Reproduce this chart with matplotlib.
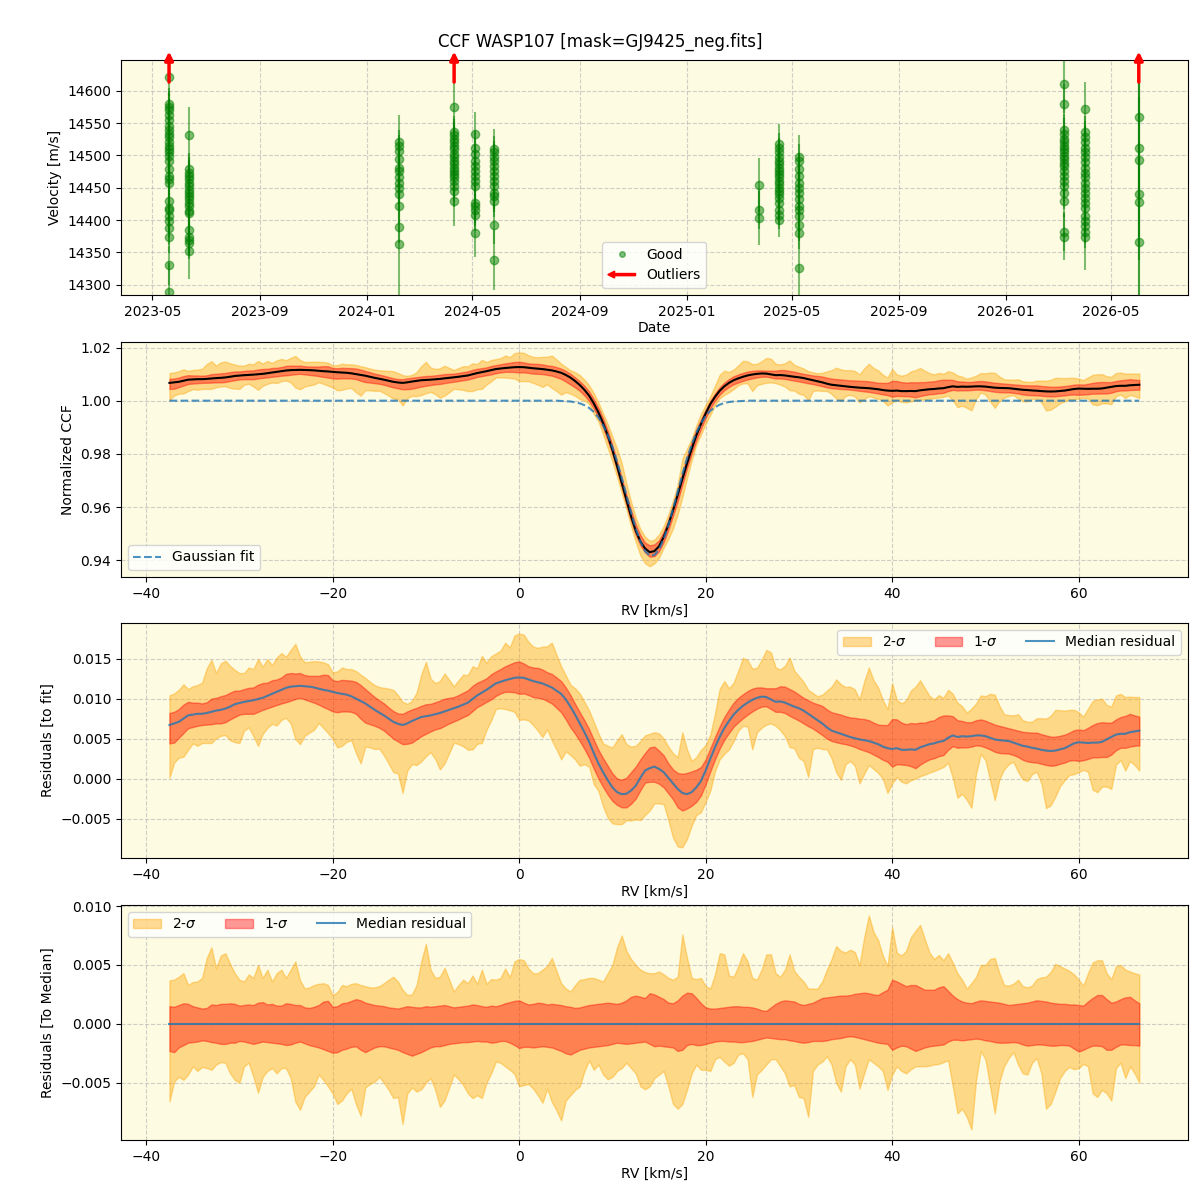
import numpy as np
import matplotlib.pyplot as plt
import matplotlib.dates as mdates
from matplotlib.ticker import MultipleLocator
from matplotlib.patches import FancyArrow, Patch
from matplotlib.lines import Line2D
from matplotlib.legend_handler import HandlerPatch

# ---------------- RV time series (top panel) ----------------
cluster_dates = ["2023-05-20", "2023-06-12", "2024-02-07", "2024-04-10",
                 "2024-05-04", "2024-05-26", "2025-03-25", "2025-04-16",
                 "2025-05-09", "2026-03-08", "2026-04-01", "2026-06-02"]

cluster_vel = [
    [14622, 14580, 14575, 14570, 14562, 14554, 14546, 14539, 14533, 14528,
     14520, 14515, 14510, 14505, 14499, 14492, 14479, 14468, 14463, 14458,
     14429, 14419, 14416, 14406, 14398, 14387, 14374, 14330, 14288],
    [14531, 14479, 14473, 14468, 14463, 14458, 14453, 14447, 14442, 14437,
     14432, 14427, 14421, 14414, 14411, 14385, 14374, 14369, 14364, 14352],
    [14520, 14515, 14507, 14494, 14481, 14476, 14466, 14458, 14450, 14440,
     14421, 14389, 14363],
    [14575, 14536, 14531, 14526, 14520, 14515, 14510, 14502, 14497, 14492,
     14486, 14481, 14476, 14471, 14466, 14460, 14453, 14445, 14429],
    [14533, 14512, 14502, 14492, 14484, 14476, 14468, 14460, 14453, 14427,
     14421, 14416, 14408, 14380],
    [14510, 14505, 14497, 14492, 14484, 14476, 14468, 14460, 14453, 14442,
     14437, 14429, 14393, 14338],
    [14454, 14416, 14403],
    [14518, 14512, 14505, 14497, 14492, 14486, 14481, 14476, 14471, 14466,
     14460, 14455, 14450, 14445, 14440, 14434, 14427, 14416, 14408, 14400],
    [14497, 14492, 14479, 14468, 14458, 14450, 14442, 14432, 14421, 14416,
     14406, 14393, 14380, 14325],
    [14610, 14580, 14539, 14533, 14526, 14520, 14515, 14510, 14505, 14499,
     14494, 14488, 14484, 14476, 14468, 14460, 14453, 14442, 14429, 14382,
     14374],
    [14572, 14536, 14528, 14520, 14512, 14505, 14497, 14489, 14481, 14473,
     14466, 14458, 14450, 14442, 14434, 14427, 14419, 14406, 14398, 14390,
     14382, 14374],
    [14559, 14511, 14493, 14440, 14428, 14366],
]

cluster_err = [
    [30, 25, 25, 25, 25, 25, 25, 25, 25, 25, 25, 25, 25, 25, 25, 25, 25, 25,
     25, 25, 25, 25, 25, 25, 25, 25, 25, 30, 45],
    [44, 25, 25, 25, 25, 25, 25, 25, 25, 25, 25, 25, 25, 25, 25, 25, 25, 25,
     25, 43],
    [42, 25, 25, 25, 25, 25, 25, 25, 25, 25, 25, 25, 95],
    [39, 25, 25, 25, 25, 25, 25, 25, 25, 25, 25, 25, 25, 25, 25, 25, 25, 25, 39],
    [34, 25, 25, 25, 25, 25, 25, 25, 25, 25, 25, 25, 25, 37],
    [31, 25, 25, 25, 25, 25, 25, 25, 25, 25, 25, 25, 30, 47],
    [42, 30, 42],
    [31, 22, 22, 22, 22, 22, 22, 22, 22, 22, 22, 22, 22, 22, 22, 22, 22, 22,
     22, 26],
    [35, 25, 25, 25, 25, 25, 25, 25, 25, 25, 25, 25, 25, 65],
    [45, 30, 25, 25, 25, 25, 25, 25, 25, 25, 25, 25, 25, 25, 25, 25, 25, 25,
     25, 30, 36],
    [42, 25, 25, 25, 25, 25, 25, 25, 25, 25, 25, 25, 25, 25, 25, 25, 25, 25,
     25, 25, 25, 52],
    [60, 80, 120, 210, 90, 130],
]

outlier_dates = ["2023-05-20", "2024-04-10", "2026-06-02"]

# ---------------- CCF profile, RV grid -37.5 .. 66.5 km/s, step 0.5 ----------------
rv_start, rv_step = -37.5, 0.5

gauss_fit = ([1.0] * 84 +
             [0.9999, 0.9998, 0.9997, 0.9994, 0.9990, 0.9983, 0.9973, 0.9958,
              0.9937, 0.9908, 0.9871, 0.9826, 0.9771, 0.9710, 0.9645, 0.9580,
              0.9520, 0.9470, 0.9434, 0.9417, 0.9419, 0.9440, 0.9479, 0.9532,
              0.9593, 0.9658, 0.9723, 0.9783, 0.9835, 0.9880, 0.9915, 0.9942,
              0.9962, 0.9975, 0.9985, 0.9991, 0.9995, 0.9997, 0.9998, 0.9999] +
             [1.0] * 85)

# median residual to the fit (units of 1e-3), rows of 5 km/s
median_resid = [
    6.7, 6.9, 7.1, 7.5, 7.9, 8.0, 8.1, 8.1, 8.2, 8.35,
    8.5, 8.6, 8.75, 9.0, 9.3, 9.45, 9.6, 9.7, 9.8, 9.95,
    10.1, 10.35, 10.6, 10.85, 11.1, 11.35, 11.5, 11.55, 11.6, 11.55,
    11.5, 11.4, 11.25, 11.1, 11.0, 10.85, 10.7, 10.6, 10.5, 10.3,
    10.0, 9.7, 9.4, 9.0, 8.6, 8.25, 7.9, 7.5, 7.1, 6.85,
    6.7, 6.9, 7.2, 7.45, 7.7, 7.8, 7.9, 8.05, 8.2, 8.4,
    8.6, 8.8, 9.0, 9.25, 9.5, 9.95, 10.4, 10.75, 11.1, 11.5,
    11.9, 12.1, 12.3, 12.45, 12.6, 12.65, 12.6, 12.4, 12.2, 12.05,
    11.9, 11.65, 11.4, 11.0, 10.6, 9.9, 9.0, 8.0, 6.9, 5.8,
    4.6, 3.2, 1.9, 0.8, -0.2, -1.1, -1.7, -1.95, -1.9, -1.5,
    -0.9, 0.1, 1.0, 1.3, 1.5, 1.2, 0.8, 0.1, -0.6, -1.3,
    -1.8, -1.95, -1.7, -1.1, -0.3, 1.0, 2.5, 3.9, 5.2, 6.3,
    7.2, 8.0, 8.6, 9.1, 9.5, 9.85, 10.1, 10.25, 10.2, 9.9,
    9.6, 9.65, 9.5, 9.25, 9.0, 8.8, 8.5, 8.1, 7.7, 7.3,
    6.9, 6.4, 6.0, 5.8, 5.6, 5.4, 5.2, 5.05, 4.9, 4.8,
    4.7, 4.5, 4.3, 4.0, 3.8, 3.7, 3.8, 3.6, 3.6, 3.65,
    3.6, 3.9, 4.1, 4.3, 4.4, 4.6, 4.7, 5.1, 5.4, 5.2,
    5.3, 5.25, 5.3, 5.4, 5.4, 5.3, 5.1, 4.9, 4.8, 4.75,
    4.7, 4.5, 4.3, 4.1, 4.0, 3.85, 3.75, 3.6, 3.5, 3.45,
    3.5, 3.65, 3.8, 4.1, 4.4, 4.55, 4.5, 4.45, 4.5, 4.5,
    4.6, 4.9, 5.2, 5.5, 5.6, 5.6, 5.8, 5.9, 6.0,
]

# band edges relative to the median (units of 1e-3)
hi_2sig = [
    3.7, 3.75, 4.0, 4.3, 3.3, 3.55, 3.6, 3.9, 5.6, 6.5,
    4.7, 5.8, 6.0, 5.1, 4.3, 3.75, 3.6, 4.2, 3.9, 5.0,
    3.9, 4.6, 3.6, 4.3, 4.6, 3.9, 4.6, 5.3, 3.7, 3.0,
    3.1, 3.3, 3.4, 3.45, 3.3, 2.45, 2.7, 3.3, 3.2, 3.4,
    3.45, 3.3, 3.2, 3.1, 3.1, 3.2, 3.45, 3.75, 4.0, 3.6,
    2.9, 2.45, 2.5, 3.3, 5.3, 6.8, 4.6, 3.9, 4.0, 4.75,
    3.75, 2.75, 3.3, 3.75, 3.45, 4.1, 3.4, 4.6, 3.4, 3.8,
    3.75, 3.9, 4.7, 3.95, 5.3, 5.5, 5.4, 4.7, 4.3, 4.3,
    4.6, 4.9, 5.6, 4.5, 3.45, 3.0, 2.75, 3.3, 3.75, 3.8,
    3.9, 3.9, 3.75, 3.6, 4.3, 5.0, 6.5, 7.5, 6.2, 5.5,
    5.0, 4.6, 4.4, 4.3, 4.3, 4.45, 4.2, 3.9, 3.75, 4.0,
    7.6, 5.6, 3.9, 3.8, 3.9, 3.2, 3.0, 4.2, 6.0, 5.9,
    4.1, 4.0, 4.9, 6.0, 5.3, 3.9, 3.75, 4.6, 5.9, 5.9,
    4.3, 4.0, 4.6, 5.9, 4.5, 4.0, 3.6, 3.0, 3.0, 3.0,
    3.6, 4.6, 5.5, 6.6, 6.2, 6.05, 6.3, 6.1, 5.0, 7.35,
    9.2, 7.8, 7.1, 5.8, 4.9, 8.2, 6.05, 5.8, 6.2, 7.35,
    7.9, 8.4, 7.2, 6.05, 5.5, 5.85, 5.4, 6.0, 5.2, 4.3,
    3.75, 3.0, 3.45, 4.0, 5.0, 5.0, 5.5, 5.6, 4.3, 3.3,
    3.25, 3.4, 3.75, 3.2, 3.1, 3.25, 3.8, 3.95, 4.0, 4.4,
    5.1, 4.9, 4.7, 4.5, 4.2, 3.75, 3.25, 4.3, 5.2, 5.4,
    5.4, 4.3, 3.8, 4.9, 5.0, 4.6, 4.45, 4.3, 4.2,
]
hi_1sig = [
    1.5, 1.45, 1.6, 1.75, 1.7, 1.5, 1.4, 1.3, 1.35, 1.65,
    1.6, 1.7, 1.7, 1.75, 1.7, 1.55, 1.6, 1.65, 1.6, 1.8,
    1.85, 1.65, 1.7, 1.55, 1.55, 1.75, 1.7, 1.6, 1.6, 1.4,
    1.35, 1.45, 1.6, 1.9, 1.95, 1.45, 1.5, 1.75, 1.8, 1.95,
    2.1, 2.0, 1.8, 1.7, 1.6, 1.55, 1.5, 1.4, 1.35, 1.3,
    1.4, 1.5, 1.45, 1.4, 1.4, 1.5, 1.45, 1.5, 1.55, 1.6,
    1.5, 1.4, 1.45, 1.5, 1.55, 1.65, 1.6, 1.5, 1.45, 1.55,
    1.5, 1.6, 1.75, 1.85, 1.95, 2.0, 1.8, 1.65, 1.7, 1.8,
    1.75, 1.65, 1.7, 1.65, 1.6, 1.5, 1.45, 1.35, 1.4, 1.5,
    1.6, 1.65, 1.7, 1.75, 1.8, 1.75, 1.7, 1.8, 2.0, 2.3,
    2.4, 2.3, 2.2, 2.6, 2.5, 2.3, 2.1, 1.8, 1.75, 2.0,
    2.4, 2.65, 2.6, 2.2, 1.75, 1.4, 1.3, 1.3, 1.35, 1.4,
    1.45, 1.5, 1.5, 1.45, 1.45, 1.4, 1.3, 1.15, 1.1, 1.4,
    1.7, 1.9, 2.0, 1.95, 1.9, 1.7, 1.6, 1.7, 1.8, 2.0,
    2.2, 2.25, 2.3, 2.35, 2.4, 2.4, 2.45, 2.55, 2.6, 2.65,
    2.6, 2.5, 2.45, 2.7, 2.9, 3.75, 3.6, 3.4, 3.2, 3.3,
    3.3, 3.1, 2.9, 2.9, 2.9, 3.1, 3.2, 2.8, 2.4, 2.1,
    1.9, 1.8, 1.75, 1.9, 2.0, 1.95, 1.9, 1.85, 1.8, 1.7,
    1.6, 1.65, 1.7, 1.75, 1.8, 1.9, 2.0, 1.95, 1.9, 1.8,
    1.75, 1.7, 1.7, 1.65, 1.65, 1.6, 1.55, 1.9, 2.2, 2.45,
    2.45, 2.1, 1.8, 1.9, 2.1, 2.25, 2.3, 2.0, 1.75,
]
lo_1sig = [
    -2.3, -2.4, -2.0, -1.8, -1.6, -1.55, -1.5, -1.4, -1.45, -1.55,
    -1.6, -1.7, -1.7, -1.6, -1.6, -1.45, -1.5, -1.6, -1.7, -1.6,
    -1.5, -1.55, -1.6, -1.65, -1.7, -1.8, -1.75, -1.6, -1.5, -1.65,
    -1.8, -1.9, -2.0, -2.15, -2.3, -2.45, -2.4, -2.2, -2.1, -1.95,
    -1.9, -2.2, -2.4, -2.2, -2.0, -1.9, -1.9, -2.0, -2.1, -2.2,
    -2.4, -2.55, -2.7, -2.55, -2.4, -2.2, -2.0, -1.9, -1.9, -1.8,
    -1.7, -1.65, -1.6, -1.55, -1.55, -1.5, -1.45, -1.5, -1.5, -1.6,
    -1.55, -1.45, -1.45, -1.6, -1.8, -2.05, -1.95, -1.95, -2.0, -1.95,
    -1.9, -1.95, -2.0, -2.15, -2.3, -2.5, -2.6, -2.4, -2.2, -2.1,
    -2.0, -1.95, -1.9, -1.85, -1.8, -1.7, -1.6, -1.65, -1.7, -1.65,
    -1.6, -1.55, -1.5, -1.7, -1.9, -1.85, -1.9, -1.95, -2.0, -2.3,
    -2.2, -1.8, -1.7, -1.8, -1.8, -1.7, -1.6, -1.5, -1.45, -1.45,
    -1.5, -1.5, -1.55, -1.55, -1.5, -1.45, -1.35, -1.25, -1.15, -1.2,
    -1.25, -1.3, -1.3, -1.4, -1.45, -1.55, -1.6, -1.55, -1.45, -1.45,
    -1.45, -1.4, -1.3, -1.25, -1.2, -1.1, -1.05, -1.1, -1.2, -1.3,
    -1.4, -1.5, -1.6, -1.65, -1.7, -2.2, -2.0, -1.85, -1.9, -2.1,
    -2.3, -2.15, -2.0, -1.9, -1.85, -1.8, -1.75, -1.5, -1.35, -1.35,
    -1.4, -1.35, -1.3, -1.25, -1.3, -1.4, -1.45, -1.55, -1.6, -1.6,
    -1.58, -1.55, -1.6, -1.75, -1.85, -1.8, -1.75, -1.75, -1.8, -1.85,
    -1.85, -1.8, -1.8, -1.85, -2.1, -2.35, -2.2, -2.0, -1.85, -1.85,
    -1.9, -2.2, -2.2, -1.95, -1.75, -1.75, -1.8, -1.8, -1.85,
]
lo_2sig = [
    -6.6, -4.9, -4.5, -4.75, -4.3, -3.6, -4.0, -3.65, -3.75, -3.9,
    -3.45, -3.25, -3.3, -4.2, -4.75, -5.0, -3.6, -3.3, -4.5, -5.85,
    -4.5, -4.0, -3.75, -4.2, -3.75, -3.75, -4.6, -6.6, -7.3, -6.2,
    -5.75, -5.3, -4.3, -4.75, -5.3, -5.9, -6.8, -6.5, -5.9, -5.5,
    -6.8, -7.8, -5.4, -5.1, -4.9, -4.5, -5.0, -5.6, -6.3, -6.2,
    -8.5, -5.9, -5.4, -5.75, -5.55, -5.0, -4.6, -5.6, -7.05, -6.5,
    -5.4, -4.3, -4.7, -5.2, -5.9, -6.3, -6.05, -6.3, -5.0, -4.2,
    -3.2, -3.3, -3.6, -3.9, -4.25, -5.3, -5.2, -5.1, -5.5, -6.05,
    -6.7, -5.5, -6.6, -7.35, -8.2, -6.5, -6.05, -5.6, -5.3, -4.0,
    -3.1, -3.9, -3.45, -4.3, -4.7, -4.5, -4.0, -3.75, -3.3, -3.75,
    -4.2, -5.3, -5.55, -5.3, -4.6, -4.3, -4.0, -5.3, -6.8, -7.2,
    -6.8, -5.6, -4.2, -3.45, -3.9, -3.9, -4.0, -3.0, -2.8, -3.2,
    -3.55, -3.3, -2.6, -2.5, -3.0, -6.2, -4.3, -3.9, -3.45, -3.0,
    -3.0, -3.6, -4.2, -5.3, -5.2, -6.2, -6.3, -7.9, -4.0, -3.45,
    -3.2, -2.75, -3.45, -5.0, -5.75, -3.6, -3.0, -3.45, -5.5, -4.2,
    -3.0, -3.3, -3.6, -4.0, -5.6, -4.3, -3.6, -4.0, -4.2, -3.85,
    -3.6, -3.6, -3.6, -3.55, -3.45, -3.4, -3.25, -3.1, -5.3, -7.6,
    -7.2, -7.9, -8.95, -4.75, -2.3, -3.0, -5.3, -7.6, -4.9, -3.6,
    -2.9, -2.4, -3.45, -4.2, -4.3, -3.3, -2.9, -4.2, -7.2, -6.8,
    -5.75, -4.6, -4.0, -3.65, -3.85, -3.75, -3.4, -3.6, -5.9, -6.2,
    -5.6, -5.9, -6.5, -3.75, -3.3, -4.6, -3.6, -4.2, -5.0,
]

# ---------------- derived curves ----------------
n = len(median_resid)
for arr in (gauss_fit, hi_2sig, hi_1sig, lo_1sig, lo_2sig):
    assert len(arr) == n, len(arr)
rv = rv_start + rv_step * np.arange(n)

fit = np.array(gauss_fit)
med = np.array(median_resid) * 1e-3
d_hi2 = np.array(hi_2sig) * 1e-3
d_hi1 = np.array(hi_1sig) * 1e-3
d_lo1 = np.array(lo_1sig) * 1e-3
d_lo2 = np.array(lo_2sig) * 1e-3

BG = "#fdfbe2"
C2 = "orange"
C1 = "red"
CLINE = "tab:blue"


def style_axis(ax):
    ax.set_facecolor(BG)
    ax.grid(True, ls="--", color="#b0b0b0", alpha=0.6, lw=0.8)
    ax.set_axisbelow(True)


def left_arrow(legend, orig_handle, xdescent, ydescent, width, height, fontsize):
    return FancyArrow(width - xdescent, height / 2 - ydescent, -width, 0,
                      width=height * 0.22, head_width=height * 0.7,
                      head_length=height * 0.7, length_includes_head=True)


fig = plt.figure(figsize=(12, 12), dpi=100)
fig.suptitle("CCF WASP107 [mask=GJ9425_neg.fits]", fontsize=12, y=0.9725)

left, width, height = 0.1008, 0.889, 0.196
ax1 = fig.add_axes([left, 0.7542, width, height])
ax2 = fig.add_axes([left, 0.5192, width, height])
ax3 = fig.add_axes([left, 0.2850, width, height])
ax4 = fig.add_axes([left, 0.0500, width, height])
for ax in (ax1, ax2, ax3, ax4):
    style_axis(ax)

# ---- panel 1: velocities ----
for d, vel, err in zip(cluster_dates, cluster_vel, cluster_err):
    t = np.full(len(vel), np.datetime64(d))
    ax1.errorbar(t, vel, yerr=err, fmt="o", color="green", ms=6,
                 alpha=0.5, elinewidth=1.5, capsize=0)

for d in outlier_dates:
    t = mdates.date2num(np.datetime64(d))
    ax1.annotate("", xy=(t, 1.035), xytext=(t, 0.905),
                 xycoords=("data", "axes fraction"),
                 textcoords=("data", "axes fraction"),
                 arrowprops=dict(arrowstyle="-|>", color="red", lw=2.5,
                                 mutation_scale=12, shrinkA=0, shrinkB=0),
                 annotation_clip=False)

ax1.set_xlim(np.datetime64("2023-03-26"), np.datetime64("2026-07-28"))
ax1.set_ylim(14284, 14648)
ax1.xaxis.set_major_locator(mdates.MonthLocator(bymonth=[1, 5, 9]))
ax1.xaxis.set_major_formatter(mdates.DateFormatter("%Y-%m"))
ax1.set_xlabel("Date", labelpad=2)
ax1.set_ylabel("Velocity [m/s]")

good_h = Line2D([], [], ls="none", marker="o", ms=4, color="green",
                alpha=0.5, label="Good")
out_h = Patch(color="red", label="Outliers")
ax1.legend(handles=[good_h, out_h], loc="lower center",
           handler_map={out_h: HandlerPatch(patch_func=left_arrow)})

# ---- panel 2: CCF ----
ccf = fit + med
ax2.fill_between(rv, ccf + d_lo2, ccf + d_hi2, color=C2, alpha=0.4)
ax2.fill_between(rv, ccf + d_lo1, ccf + d_hi1, color=C1, alpha=0.4)
ax2.plot(rv, ccf, color="black", lw=1.5)
ax2.plot(rv, fit, ls="--", color=CLINE, alpha=0.8, lw=1.5, label="Gaussian fit")
ax2.set_xlabel("RV [km/s]", labelpad=2)
ax2.set_ylabel("Normalized CCF")
ax2.legend(loc="lower left")

# ---- panel 3: residuals to fit ----
ax3.fill_between(rv, med + d_lo2, med + d_hi2, color=C2, alpha=0.4,
                 label=r"2-$\sigma$")
ax3.fill_between(rv, med + d_lo1, med + d_hi1, color=C1, alpha=0.4,
                 label=r"1-$\sigma$")
ax3.plot(rv, med, color=CLINE, alpha=0.8, lw=1.5, label="Median residual")
ax3.set_xlabel("RV [km/s]", labelpad=2)
ax3.set_ylabel("Residuals [to fit]")
ax3.yaxis.set_major_locator(MultipleLocator(0.005))
ax3.legend(loc="upper right", ncol=3)

# ---- panel 4: residuals to median ----
ax4.fill_between(rv, d_lo2, d_hi2, color=C2, alpha=0.4, label=r"2-$\sigma$")
ax4.fill_between(rv, d_lo1, d_hi1, color=C1, alpha=0.4, label=r"1-$\sigma$")
ax4.plot(rv, np.zeros_like(rv), color=CLINE, alpha=0.8, lw=1.5,
         label="Median residual")
ax4.set_xlabel("RV [km/s]", labelpad=2)
ax4.set_ylabel("Residuals [To Median]")
ax4.yaxis.set_major_locator(MultipleLocator(0.005))
ax4.legend(loc="upper left", ncol=3)

for ax in (ax2, ax3, ax4):
    ax.set_xticks([-40, -20, 0, 20, 40, 60])

fig.savefig("out.png", dpi=100)
